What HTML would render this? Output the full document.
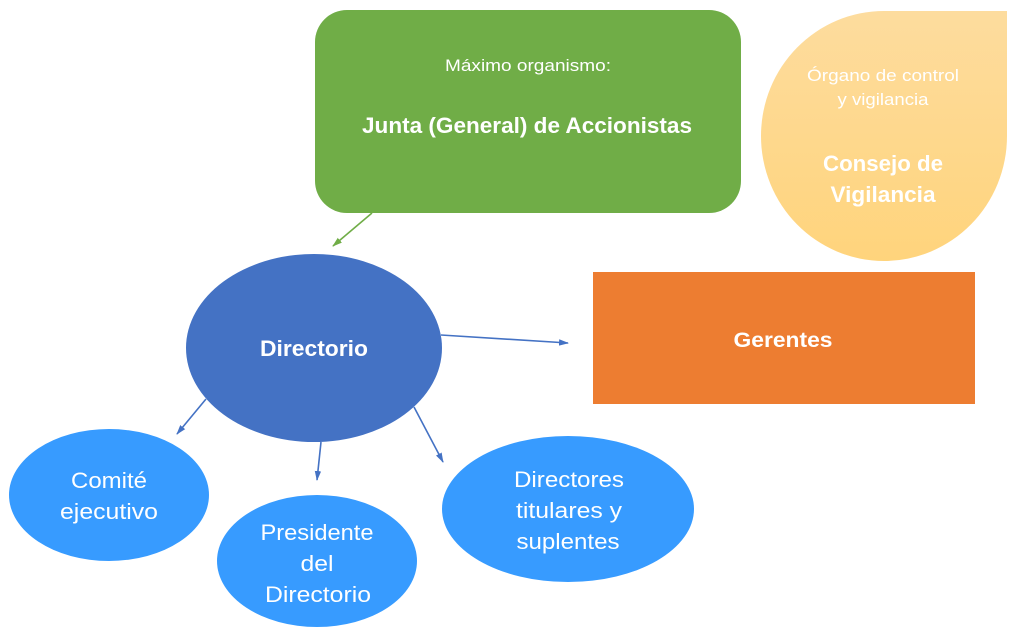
<!DOCTYPE html>
<html><head><meta charset="utf-8"><style>
html,body{margin:0;padding:0;background:#fff;}
svg{display:block;}
text{font-family:"Liberation Sans",sans-serif;fill:#fff;}
</style></head><body>
<svg width="1014" height="640" viewBox="0 0 1014 640" xmlns="http://www.w3.org/2000/svg">
<defs>
<linearGradient id="g1" x1="0" y1="0" x2="0" y2="1">
<stop offset="0" stop-color="#FDDC9E"/>
<stop offset="1" stop-color="#FFD47C"/>
</linearGradient>
<marker id="ab" markerWidth="10" markerHeight="8" refX="9" refY="4" orient="auto" markerUnits="userSpaceOnUse">
<path d="M0,0.8 L10,4 L0,7.2 Z" fill="#4472C4"/>
</marker>
<marker id="ag" markerWidth="10" markerHeight="8" refX="9" refY="4" orient="auto" markerUnits="userSpaceOnUse">
<path d="M0,0.8 L10,4 L0,7.2 Z" fill="#70AD47"/>
</marker>
</defs>

<!-- Green rounded rect -->
<rect x="315" y="10" width="426" height="203" rx="32" ry="32" fill="#70AD47"/>
<text x="528" y="71" font-size="17" text-anchor="middle" textLength="166" lengthAdjust="spacingAndGlyphs">Máximo organismo:</text>
<text x="527" y="133" font-size="22" font-weight="bold" text-anchor="middle" textLength="330" lengthAdjust="spacingAndGlyphs">Junta (General) de Accionistas</text>

<!-- Teardrop -->
<path d="M761,136 A123,125 0 0 1 884,11 L1007,11 L1007,136 A123,125 0 0 1 884,261 A123,125 0 0 1 761,136 Z" fill="url(#g1)"/>
<text x="883" y="81" font-size="17" text-anchor="middle" textLength="152" lengthAdjust="spacingAndGlyphs">Órgano de control</text>
<text x="883" y="105" font-size="17" text-anchor="middle" textLength="91" lengthAdjust="spacingAndGlyphs">y vigilancia</text>
<text x="883" y="171" font-size="22" font-weight="bold" text-anchor="middle" textLength="120" lengthAdjust="spacingAndGlyphs">Consejo de</text>
<text x="883" y="202" font-size="22" font-weight="bold" text-anchor="middle" textLength="105" lengthAdjust="spacingAndGlyphs">Vigilancia</text>

<!-- Gerentes -->
<rect x="593" y="272" width="382" height="132" fill="#ED7D31"/>
<text x="783" y="347" font-size="21" font-weight="bold" text-anchor="middle" textLength="99" lengthAdjust="spacingAndGlyphs">Gerentes</text>

<!-- Directorio -->
<ellipse cx="314" cy="348" rx="128" ry="94" fill="#4472C4"/>
<text x="314" y="356" font-size="22" font-weight="bold" text-anchor="middle" textLength="108" lengthAdjust="spacingAndGlyphs">Directorio</text>

<!-- Comité -->
<ellipse cx="109" cy="495" rx="100" ry="66" fill="#379BFF"/>
<text x="109" y="488" font-size="22" text-anchor="middle" textLength="76" lengthAdjust="spacingAndGlyphs">Comité</text>
<text x="109" y="519" font-size="22" text-anchor="middle" textLength="98" lengthAdjust="spacingAndGlyphs">ejecutivo</text>

<!-- Presidente -->
<ellipse cx="317" cy="561" rx="100" ry="66" fill="#379BFF"/>
<text x="317" y="540" font-size="22" text-anchor="middle" textLength="113" lengthAdjust="spacingAndGlyphs">Presidente</text>
<text x="317" y="571" font-size="22" text-anchor="middle" textLength="33" lengthAdjust="spacingAndGlyphs">del</text>
<text x="318" y="602" font-size="22" text-anchor="middle" textLength="106" lengthAdjust="spacingAndGlyphs">Directorio</text>

<!-- Directores -->
<ellipse cx="568" cy="509" rx="126" ry="73" fill="#379BFF"/>
<text x="569" y="487" font-size="22" text-anchor="middle" textLength="110" lengthAdjust="spacingAndGlyphs">Directores</text>
<text x="569" y="518" font-size="22" text-anchor="middle" textLength="106" lengthAdjust="spacingAndGlyphs">titulares y</text>
<text x="568" y="549" font-size="22" text-anchor="middle" textLength="103" lengthAdjust="spacingAndGlyphs">suplentes</text>

<!-- Connectors -->
<line x1="372" y1="213" x2="333" y2="246" stroke="#70AD47" stroke-width="1.6" marker-end="url(#ag)"/>
<line x1="441" y1="335" x2="568" y2="343" stroke="#4472C4" stroke-width="1.6" marker-end="url(#ab)"/>
<line x1="206" y1="399" x2="177" y2="434" stroke="#4472C4" stroke-width="1.6" marker-end="url(#ab)"/>
<line x1="321" y1="442" x2="317" y2="480" stroke="#4472C4" stroke-width="1.6" marker-end="url(#ab)"/>
<line x1="414" y1="407" x2="443" y2="462" stroke="#4472C4" stroke-width="1.6" marker-end="url(#ab)"/>
</svg>
</body></html>
